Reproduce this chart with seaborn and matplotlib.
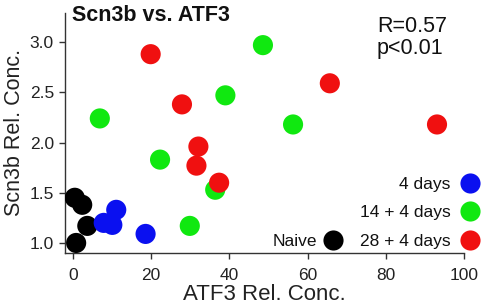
import matplotlib
matplotlib.use("Agg")
import matplotlib.pyplot as plt
from matplotlib.lines import Line2D
import seaborn as sns
import pandas as pd

# ---- data ----
naive_x = [0.5, 2.4, 3.7, 0.85]
naive_y = [1.45, 1.38, 1.17, 1.00]
d4_x = [7.9, 10.1, 11.1, 18.6]
d4_y = [1.20, 1.18, 1.33, 1.09]
d14_x = [6.9, 22.3, 29.9, 36.4, 39.0, 48.6, 56.3]
d14_y = [2.24, 1.83, 1.17, 1.53, 2.47, 2.97, 2.18]
d28_x = [19.9, 27.9, 32.1, 31.6, 37.4, 65.7, 93.1]
d28_y = [2.88, 2.38, 1.96, 1.77, 1.60, 2.59, 2.18]

groups = ["Naive", "4 days", "14 + 4 days", "28 + 4 days"]
colors = ["#000000", "#0a10f0", "#10e810", "#f01010"]
x_ticks = [0, 20, 40, 60, 80, 100]
y_ticks = [1.0, 1.5, 2.0, 2.5, 3.0]

frames = []
for g, xs, ys in zip(groups, [naive_x, d4_x, d14_x, d28_x], [naive_y, d4_y, d14_y, d28_y]):
    frames.append(pd.DataFrame({"ATF3": xs, "Scn3b": ys, "group": g}))
df = pd.concat(frames, ignore_index=True)
palette = dict(zip(groups, colors))

sns.set_style("white")
plt.rcParams["font.family"] = ["Liberation Sans", "DejaVu Sans"]

fig = plt.figure(figsize=(4.84, 3.06), dpi=100)
ax = fig.add_axes([65 / 484, 1 - 252.5 / 306, (464 - 65) / 484, (252.5 - 13) / 306])

sns.scatterplot(data=df, x="ATF3", y="Scn3b", hue="group", palette=palette,
                s=210, edgecolor="none", linewidth=0, legend=False, ax=ax, zorder=3)

ax.set_xlim(-2, 100)
ax.set_ylim(0.905, 3.29)
ax.set_xticks(x_ticks)
ax.set_xticklabels([str(v) for v in x_ticks])
ax.set_yticks(y_ticks)
ax.set_yticklabels([f"{v:.1f}" for v in y_ticks])
ax.tick_params(axis="both", direction="out", length=4, width=1, color="#333333",
               labelsize=12.5, colors="#222222", pad=4, bottom=True, left=True)
ax.tick_params(axis="x", pad=7)
for side in ["top", "right"]:
    ax.spines[side].set_visible(False)
for side in ["left", "bottom"]:
    ax.spines[side].set_color("#333333")
    ax.spines[side].set_linewidth(1)

ax.set_xlabel("ATF3 Rel. Conc.", fontsize=16, color="#222222", labelpad=1)
ax.set_ylabel("Scn3b Rel. Conc.", fontsize=15.5, color="#222222", labelpad=3)

fig.text(72 / 484, 1 - 21 / 306, "Scn3b vs. ATF3", fontsize=15.5, fontweight="bold",
         va="baseline", ha="left", color="#111111")
fig.text(377 / 484, 1 - 16 / 306, "R=0.57\np<0.01", fontsize=15.5, va="top", ha="left",
         color="#111111", linespacing=1.05)

def handle(c):
    return Line2D([], [], marker="o", linestyle="none", markersize=14.5,
                  markerfacecolor=c, markeredgecolor="none")

leg1 = ax.legend([handle(colors[1]), handle(colors[2]), handle(colors[3])],
                 groups[1:], loc="lower right", bbox_to_anchor=(1.07, -0.02),
                 markerfirst=False, frameon=False, fontsize=12.5, handlelength=1.5,
                 handletextpad=0.4, labelspacing=0.75, borderpad=0, labelcolor="#111111")
ax.add_artist(leg1)
leg2 = ax.legend([handle(colors[0])], groups[:1], loc="lower right",
                 bbox_to_anchor=(0.727, -0.02), markerfirst=False, frameon=False,
                 fontsize=12.5, handlelength=1.5, handletextpad=0.2, borderpad=0,
                 labelcolor="#111111")

fig.savefig("out.png", dpi=100)
